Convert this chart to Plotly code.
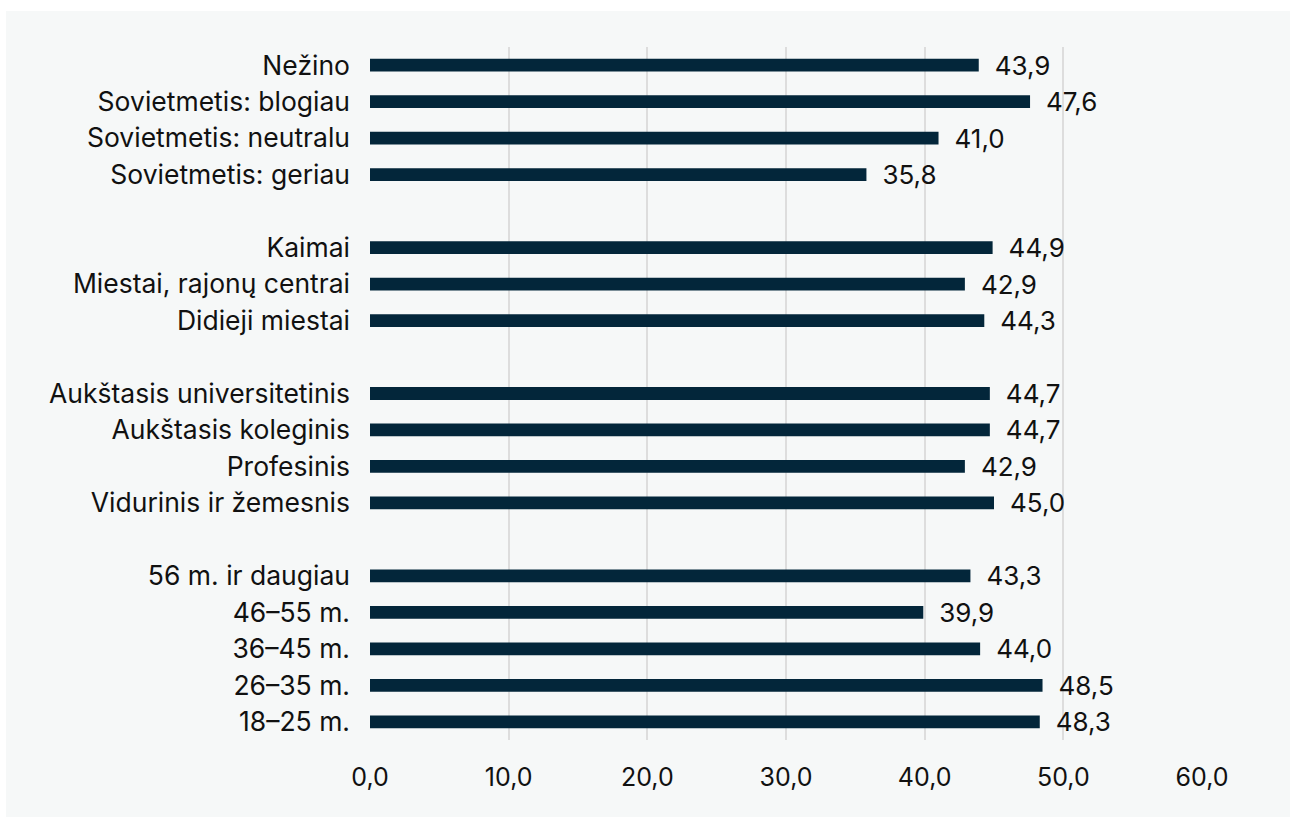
import plotly.graph_objects as go

categories = [
    "Nežino", "Sovietmetis: blogiau", "Sovietmetis: neutralu", "Sovietmetis: geriau",
    " ",
    "Kaimai", "Miestai, rajonų centrai", "Didieji miestai",
    "  ",
    "Aukštasis universitetinis", "Aukštasis koleginis", "Profesinis", "Vidurinis ir žemesnis",
    "   ",
    "56 m. ir daugiau", "46–55 m.", "36–45 m.", "26–35 m.", "18–25 m.",
]
values = [
    43.9, 47.6, 41.0, 35.8,
    None,
    44.9, 42.9, 44.3,
    None,
    44.7, 44.7, 42.9, 45.0,
    None,
    43.3, 39.9, 44.0, 48.5, 48.3,
]
x_ticks = [0, 10, 20, 30, 40, 50, 60]

W, H = 1290, 818
ml, mr, mt, mb = 370, 88, 47, 78
pw, ph = W - ml - mr, H - mt - mb
FS = 25

fig = go.Figure(go.Bar(
    x=values, y=categories, orientation="h",
    marker=dict(color="#03263a", line=dict(width=0)),
    texttemplate="\u2002%{x:.1f}", textposition="outside",
    constraintext="none",
    textfont=dict(family="Inter", size=26, color="#111111"),
    cliponaxis=False, hoverinfo="skip",
))

fig.update_layout(
    width=W, height=H,
    margin=dict(l=ml, r=mr, t=mt, b=mb, pad=0),
    paper_bgcolor="#ffffff", plot_bgcolor="rgba(0,0,0,0)",
    separators=", ",
    bargap=0.65,
    showlegend=False,
    font=dict(family="Inter", size=FS, color="#111111"),
    xaxis=dict(
        range=[0, 60], tickvals=x_ticks, tickformat=".1f",
        showgrid=True, gridcolor="#dddddd", gridwidth=1.5,
        zeroline=False, showline=False, ticks="",
        ticklabelstandoff=20,
        tickfont=dict(family="Inter", size=FS, color="#111111"),
    ),
    yaxis=dict(
        type="category", categoryorder="array", categoryarray=categories,
        autorange="reversed", showgrid=False, zeroline=False, showline=False,
        ticks="", ticklabelstandoff=19,
        tickfont=dict(family="Inter", size=26.5, color="#111111"),
    ),
    shapes=[dict(
        type="rect", xref="paper", yref="paper", layer="below",
        x0=(6 - ml) / pw, x1=(W - ml) / pw,
        y0=-(H - 1 - (H - mb)) / ph, y1=((H - mb) - 11) / ph,
        fillcolor="#f6f8f8", line=dict(width=0),
    )],
)

fig.write_html(
    "out.html",
    config={"displayModeBar": False},
    post_script="document.body.style.margin='0';document.body.style.overflow='hidden';",
)
